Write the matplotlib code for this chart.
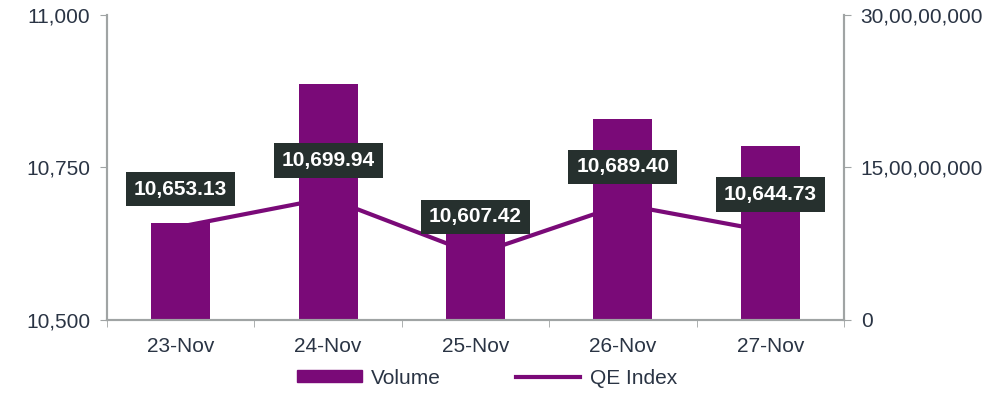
import matplotlib
matplotlib.use("Agg")
import matplotlib.pyplot as plt
from matplotlib.ticker import FuncFormatter
from matplotlib.patches import Patch
from matplotlib.lines import Line2D
import numpy as np

dates = ["23-Nov", "24-Nov", "25-Nov", "26-Nov", "27-Nov"]
qe_index = [10653.13, 10699.94, 10607.42, 10689.40, 10644.73]
volume = [95400000, 232000000, 95000000, 197700000, 171100000]

purple = "#7a0a78"
box_col = "#26302e"
txt_col = "#2a3444"
grey = "#a0a4a4"

plt.rcParams["font.family"] = ["Liberation Sans", "DejaVu Sans"]


def indian(v, pos=None):
    # 300000000 -> 30,00,00,000
    s = str(int(round(v)))
    if len(s) <= 3:
        return s
    head, tail = s[:-3], s[-3:]
    parts = []
    while len(head) > 2:
        parts.insert(0, head[-2:])
        head = head[:-2]
    if head:
        parts.insert(0, head)
    return ",".join(parts) + "," + tail


fig = plt.figure(figsize=(10, 3.95), dpi=100)
ax = fig.add_axes([0.107, 0.19, 0.737, 0.772])
ax2 = ax.twinx()

x = np.arange(len(dates))

ax.set_ylim(10500, 11000)
ax.set_yticks([10500, 10750, 11000])
ax.yaxis.set_major_formatter(FuncFormatter(lambda v, p: f"{v:,.0f}"))
ax.set_xlim(-0.5, len(dates) - 0.5)

# index line drawn on the volume axis (rescaled) so it sits behind the bars
ax2.plot(x, [(q - 10500) / 500 * 300000000 for q in qe_index],
         color=purple, lw=3, zorder=1)
ax2.bar(x, volume, width=0.4, color=purple, zorder=2)
ax2.set_ylim(0, 300000000)
ax2.set_yticks([0, 150000000, 300000000])
ax2.yaxis.set_major_formatter(FuncFormatter(indian))

# labels live on ax, which goes on top
ax.set_zorder(ax2.get_zorder() + 1)
ax.patch.set_visible(False)

for xi, q in zip(x, qe_index):
    ax.annotate(f"{q:,.2f}", (xi, q), xytext=(0, 27), textcoords="offset points",
                ha="center", va="center", color="white", fontsize=15, fontweight="bold",
                bbox=dict(boxstyle="square,pad=0.38", fc=box_col, ec="none"))

ax.set_xticks(np.arange(-0.5, len(dates), 1), minor=True)
ax.set_xticks(x)
ax.set_xticklabels(dates)
ax.tick_params(axis="x", which="major", length=0, pad=12, labelsize=15, labelcolor=txt_col)
ax.tick_params(axis="x", which="minor", length=5, color=grey, direction="out")
ax.tick_params(axis="y", length=5, color=grey, labelsize=15, labelcolor=txt_col, pad=7)
ax2.tick_params(axis="y", length=5, color=grey, labelsize=15, labelcolor=txt_col, pad=7)

for a in (ax, ax2):
    a.spines["top"].set_visible(False)
    for s in ("left", "right", "bottom"):
        a.spines[s].set_color(grey)
        a.spines[s].set_linewidth(1.5)

handles = [Patch(color=purple, label="Volume"),
           Line2D([0], [0], color=purple, lw=3, label="QE Index")]
fig.legend(handles=handles, loc="center", bbox_to_anchor=(0.487, 0.043), ncol=2,
           frameon=False, fontsize=15, handlelength=3.1, handleheight=0.55,
           columnspacing=3.6, handletextpad=0.45, labelcolor=txt_col)

fig.savefig("out.png", dpi=100)
